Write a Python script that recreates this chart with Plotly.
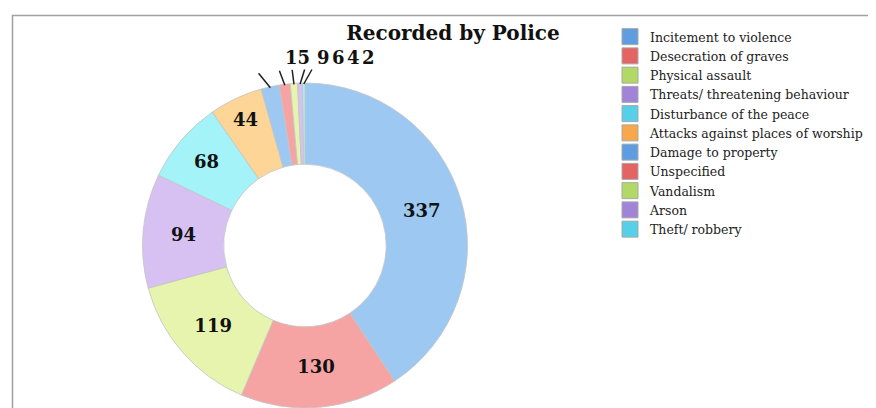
import numpy as np
import plotly.graph_objects as go

categories = ["Incitement to violence", "Desecration of graves", "Physical assault",
              "Threats/ threatening behaviour", "Disturbance of the peace",
              "Attacks against places of worship", "Damage to property", "Unspecified",
              "Vandalism", "Arson", "Theft/ robbery"]
values = [337, 130, 119, 94, 68, 44, 15, 9, 6, 4, 2]
colors = ["#9CC8F2", "#F5A3A3", "#E6F4AE", "#D6C1F2", "#A3F3F8", "#FCD597",
          "#9CC8F2", "#F5A3A3", "#E6F4AE", "#D6C1F2", "#A3F3F8"]
legend_colors = ["#5E9DE0", "#E46464", "#B2D866", "#A184D8", "#55D0E8", "#F8A84C",
                 "#5E9DE0", "#E46464", "#B2D866", "#A184D8", "#55D0E8"]

OFF = 8                               # page body margin in the browser
W, H = 876 - OFF, 408 - OFF
CX, CY, R = 305.0 - OFF, 245.5 - OFF, 162.5   # donut centre / radius in px (layout)
SMALL_FROM = 6                        # slices labelled outside

vals = np.array(values, dtype=float)
inside = [str(v) if i < SMALL_FROM else "" for i, v in enumerate(values)]

fig = go.Figure()
fig.add_trace(go.Pie(
    labels=categories, values=values, sort=False, direction="clockwise", rotation=0,
    hole=0.5, showlegend=False,
    marker=dict(colors=colors, line=dict(color="#C4C4C4", width=0.8)),
    text=inside, textinfo="text", textposition="inside",
    insidetextorientation="horizontal",
    textfont=dict(family="DejaVu Serif", size=18, color="#111111", weight="bold"),
    domain=dict(x=[(CX - R) / W, (CX + R) / W], y=[0, 1 - (CY - R) / H]),
    hoverinfo="label+value",
))

# legend entries (one per category, with the legend swatch colours)
for cat, col in zip(categories, legend_colors):
    fig.add_trace(go.Scatter(
        x=[None], y=[None], mode="markers", name=cat,
        marker=dict(symbol="square", size=16, color=col,
                    line=dict(color="#A8A8A8", width=1)),
        hoverinfo="skip"))

# leader lines + labels for the small slices, from the data angles
cum = np.cumsum(vals)
mid = (cum - vals / 2) / vals.sum()
tail_dx = [-13, -6, -2, 5, 9]
label_x = [297, 323, 338, 353, 368]
for k, i in enumerate(range(SMALL_FROM, len(values))):
    th = 2 * np.pi * mid[i]
    px = CX + (R - 1) * np.sin(th)
    py = CY - (R - 1) * np.cos(th)
    fig.add_annotation(x=px / W, y=1 - py / H, xref="paper", yref="paper",
                       ax=tail_dx[k], ay=-16, text="", showarrow=True,
                       arrowhead=0, arrowwidth=1.5, arrowcolor="#222222")
    fig.add_annotation(x=(label_x[k] - OFF) / W, y=1 - (57 - OFF) / H,
                       xref="paper", yref="paper", xanchor="center", yanchor="middle",
                       text=str(values[i]), showarrow=False,
                       font=dict(family="DejaVu Serif", size=18, color="#111111", weight="bold"))

# chart frame (cropped at right/bottom)
fig.add_shape(type="rect", xref="paper", yref="paper",
              x0=(12.5 - OFF) / W, x1=1.1, y0=-0.1, y1=1 - (15.5 - OFF) / H,
              line=dict(color="#A0A0A0", width=1.5), fillcolor="rgba(0,0,0,0)")

fig.update_layout(
    width=W, height=H,
    margin=dict(l=0, r=0, t=0, b=0),
    paper_bgcolor="white", plot_bgcolor="white",
    xaxis=dict(visible=False), yaxis=dict(visible=False),
    title=dict(text="<b>Recorded by Police</b>", x=(453 - OFF) / W, xanchor="center",
               y=1 - (33 - OFF) / H, yanchor="middle",
               font=dict(family="DejaVu Serif", size=20, color="#111111")),
    legend=dict(x=(610 - OFF) / W, xanchor="left", y=1 - (22 - OFF) / H, yanchor="top",
                font=dict(family="DejaVu Serif", size=12.5, color="#222222"),
                bgcolor="rgba(0,0,0,0)", traceorder="normal", tracegroupgap=0),
    showlegend=True,
)

fig.write_html("out.html")
